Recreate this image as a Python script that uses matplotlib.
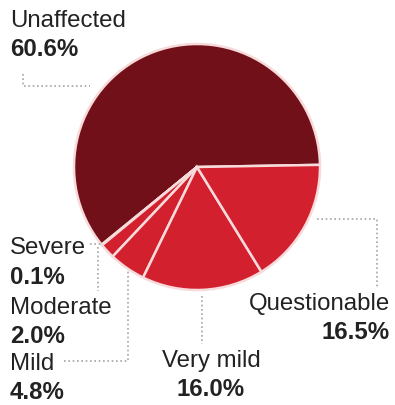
import matplotlib.pyplot as plt

# share of respondents by category
labels = ["Unaffected", "Severe", "Moderate", "Mild", "Very mild", "Questionable"]
shares = [60.6, 0.1, 2.0, 4.8, 16.0, 16.5]

W, H = 395, 406
plt.rcParams['font.family'] = ['Liberation Sans', 'DejaVu Sans']

fig = plt.figure(figsize=(W / 100, H / 100), dpi=100)
ax = fig.add_axes([0, 0, 1, 1])

# pie geometry in pixel space (y measured from top)
cx, cy, r = 197, 168, 123
colors = ['#72101a'] + ['#d2202e'] * 5
ax.pie(shares, colors=colors, center=(cx, H - cy), radius=r, startangle=1,
       counterclock=True, wedgeprops=dict(edgecolor='#f7dada', linewidth=1.8))
ax.set_xlim(0, W)
ax.set_ylim(0, H)
ax.set_aspect('equal')
ax.axis('off')

# label placement: x, y of name line, alignment
placement = {
    "Unaffected": (10, 21, 'left'),
    "Severe": (10, 248, 'left'),
    "Moderate": (10, 308, 'left'),
    "Mild": (10, 364, 'left'),
    "Very mild": (211, 361, 'center'),
    "Questionable": (390, 304, 'right'),
}
for name, val in zip(labels, shares):
    x, y, ha = placement[name]
    ax.text(x, H - y, name, ha=ha, va='center', fontsize=17.3, color='#222222')
    ax.text(x, H - y - 29, f"{val:.1f}%", ha=ha, va='center', fontsize=17.3,
            fontweight='bold', color='#222222')

# dotted leader lines
leaders = [
    [(23, 75), (23, 87), (90, 87)],
    [(90, 245), (102, 245)],
    [(98, 248), (98, 292)],
    [(64, 362), (128, 362), (128, 270)],
    [(202, 297), (202, 345)],
    [(317, 220), (377, 220), (377, 288)],
]
for pts in leaders:
    xs = [p[0] for p in pts]
    ys = [H - p[1] for p in pts]
    ax.plot(xs, ys, color='#a5a5a5', linestyle=(0, (1, 1.6)), linewidth=1.2)

fig.savefig('out.png', dpi=100)
